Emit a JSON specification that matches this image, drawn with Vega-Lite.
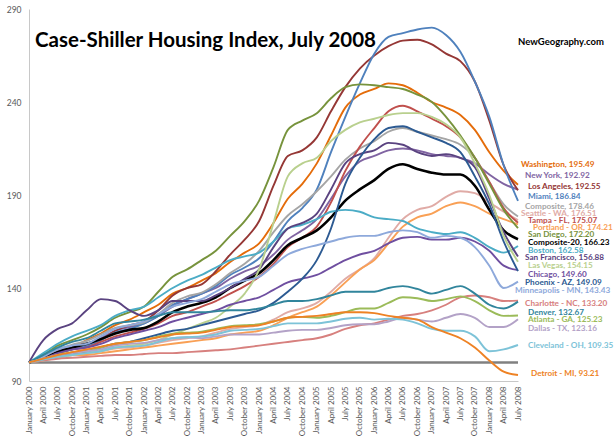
{
"$schema": "https://vega.github.io/schema/vega-lite/v6.json",
"width": 489, "height": 372,
"autosize": {"type": "none"},
"padding": {"left": 29, "top": 9, "right": 97, "bottom": 63},
"background": "white",
"config": {"view": {"stroke": null}, "font": "Lato"},
"title": {"text": "Case-Shiller Housing Index, July 2008", "anchor": "start", "frame": "group", "baseline": "middle", "dx": 6, "dy": 60, "fontSize": 20.5, "fontWeight": "bold", "font": "Lato", "color": "#000000"},
"datasets": {
"labels": [
{"c":"Washington","t":"Washington, 195.49","at":206.1},
{"c":"New York","t":"New York, 192.92","at":200.2},
{"c":"Los Angeles","t":"Los Angeles, 192.55","at":194.3},
{"c":"Miami","t":"Miami, 186.84","at":188.9},
{"c":"Composite","t":"Composite, 178.46","at":183.5},
{"c":"Seattle","t":"Seattle - WA, 176.51","at":179.8},
{"c":"Tampa","t":"Tampa - FL, 175.07","at":176.0},
{"c":"Portland","t":"Portland - OR, 174.21","at":172.3},
{"c":"San Diego","t":"San Diego, 172.20","at":168.5},
{"c":"Composite-20","t":"Composite-20, 166.23","at":164.2},
{"c":"Boston","t":"Boston, 162.58","at":159.9},
{"c":"San Francisco","t":"San Francisco, 156.88","at":156.1},
{"c":"Las Vegas","t":"Las Vegas, 154.15","at":151.8},
{"c":"Chicago","t":"Chicago, 149.60","at":147.0},
{"c":"Phoenix","t":"Phoenix - AZ, 149.09","at":142.7},
{"c":"Minneapolis","t":"Minneapolis - MN, 143.43","at":138.4},
{"c":"Charlotte","t":"Charlotte - NC, 133.20","at":131.4},
{"c":"Denver","t":"Denver, 132.67","at":126.6},
{"c":"Atlanta","t":"Atlanta - GA, 125.23","at":122.8},
{"c":"Dallas","t":"Dallas - TX, 123.16","at":118.0},
{"c":"Cleveland","t":"Cleveland - OH, 109.35","at":108.8},
{"c":"Detroit","t":"Detroit - MI, 93.21","at":93.8}
],
"s": [
{"c":"Washington","m":"2000-01-01","v":100},{"c":"Washington","m":"2000-04-01","v":102.5},{"c":"Washington","m":"2000-07-01","v":106},{"c":"Washington","m":"2000-10-01","v":108},
{"c":"Washington","m":"2001-01-01","v":112},{"c":"Washington","m":"2001-04-01","v":115.5},{"c":"Washington","m":"2001-07-01","v":120},{"c":"Washington","m":"2001-10-01","v":123},
{"c":"Washington","m":"2002-01-01","v":127},{"c":"Washington","m":"2002-04-01","v":131},{"c":"Washington","m":"2002-07-01","v":137},{"c":"Washington","m":"2002-10-01","v":140},
{"c":"Washington","m":"2003-01-01","v":144},{"c":"Washington","m":"2003-04-01","v":148},{"c":"Washington","m":"2003-07-01","v":154},{"c":"Washington","m":"2003-10-01","v":159},
{"c":"Washington","m":"2004-01-01","v":164},{"c":"Washington","m":"2004-04-01","v":175},{"c":"Washington","m":"2004-07-01","v":188},{"c":"Washington","m":"2004-10-01","v":196},
{"c":"Washington","m":"2005-01-01","v":207},{"c":"Washington","m":"2005-04-01","v":222},{"c":"Washington","m":"2005-07-01","v":237},{"c":"Washington","m":"2005-10-01","v":244},
{"c":"Washington","m":"2006-01-01","v":247},{"c":"Washington","m":"2006-04-01","v":250},{"c":"Washington","m":"2006-07-01","v":249},{"c":"Washington","m":"2006-10-01","v":245},
{"c":"Washington","m":"2007-01-01","v":240},{"c":"Washington","m":"2007-04-01","v":237},{"c":"Washington","m":"2007-07-01","v":233},{"c":"Washington","m":"2007-10-01","v":225},
{"c":"Washington","m":"2008-01-01","v":213},{"c":"Washington","m":"2008-04-01","v":203},{"c":"Washington","m":"2008-07-01","v":195.49},

{"c":"New York","m":"2000-01-01","v":100},{"c":"New York","m":"2000-04-01","v":103},{"c":"New York","m":"2000-07-01","v":106},{"c":"New York","m":"2000-10-01","v":109},
{"c":"New York","m":"2001-01-01","v":110},{"c":"New York","m":"2001-04-01","v":113},{"c":"New York","m":"2001-07-01","v":117},{"c":"New York","m":"2001-10-01","v":119},
{"c":"New York","m":"2002-01-01","v":121},{"c":"New York","m":"2002-04-01","v":125},{"c":"New York","m":"2002-07-01","v":130},{"c":"New York","m":"2002-10-01","v":134},
{"c":"New York","m":"2003-01-01","v":137},{"c":"New York","m":"2003-04-01","v":140},{"c":"New York","m":"2003-07-01","v":145},{"c":"New York","m":"2003-10-01","v":149},
{"c":"New York","m":"2004-01-01","v":152},{"c":"New York","m":"2004-04-01","v":158},{"c":"New York","m":"2004-07-01","v":166},{"c":"New York","m":"2004-10-01","v":171},
{"c":"New York","m":"2005-01-01","v":177},{"c":"New York","m":"2005-04-01","v":188},{"c":"New York","m":"2005-07-01","v":200},{"c":"New York","m":"2005-10-01","v":208},
{"c":"New York","m":"2006-01-01","v":211},{"c":"New York","m":"2006-04-01","v":214},{"c":"New York","m":"2006-07-01","v":215},{"c":"New York","m":"2006-10-01","v":214},
{"c":"New York","m":"2007-01-01","v":212},{"c":"New York","m":"2007-04-01","v":211},{"c":"New York","m":"2007-07-01","v":210},{"c":"New York","m":"2007-10-01","v":207},
{"c":"New York","m":"2008-01-01","v":201},{"c":"New York","m":"2008-04-01","v":196},{"c":"New York","m":"2008-07-01","v":192.92},

{"c":"Los Angeles","m":"2000-01-01","v":100},{"c":"Los Angeles","m":"2000-04-01","v":102},{"c":"Los Angeles","m":"2000-07-01","v":105},{"c":"Los Angeles","m":"2000-10-01","v":107},
{"c":"Los Angeles","m":"2001-01-01","v":109},{"c":"Los Angeles","m":"2001-04-01","v":112},{"c":"Los Angeles","m":"2001-07-01","v":117},{"c":"Los Angeles","m":"2001-10-01","v":120},
{"c":"Los Angeles","m":"2002-01-01","v":122},{"c":"Los Angeles","m":"2002-04-01","v":128},{"c":"Los Angeles","m":"2002-07-01","v":136},{"c":"Los Angeles","m":"2002-10-01","v":140},
{"c":"Los Angeles","m":"2003-01-01","v":142},{"c":"Los Angeles","m":"2003-04-01","v":149},{"c":"Los Angeles","m":"2003-07-01","v":158},{"c":"Los Angeles","m":"2003-10-01","v":166},
{"c":"Los Angeles","m":"2004-01-01","v":176},{"c":"Los Angeles","m":"2004-04-01","v":195},{"c":"Los Angeles","m":"2004-07-01","v":211},{"c":"Los Angeles","m":"2004-10-01","v":214},
{"c":"Los Angeles","m":"2005-01-01","v":221},{"c":"Los Angeles","m":"2005-04-01","v":235},{"c":"Los Angeles","m":"2005-07-01","v":248},{"c":"Los Angeles","m":"2005-10-01","v":258},
{"c":"Los Angeles","m":"2006-01-01","v":265},{"c":"Los Angeles","m":"2006-04-01","v":270},{"c":"Los Angeles","m":"2006-07-01","v":273},{"c":"Los Angeles","m":"2006-10-01","v":273.5},
{"c":"Los Angeles","m":"2007-01-01","v":271},{"c":"Los Angeles","m":"2007-04-01","v":266},{"c":"Los Angeles","m":"2007-07-01","v":262},{"c":"Los Angeles","m":"2007-10-01","v":251},
{"c":"Los Angeles","m":"2008-01-01","v":230},{"c":"Los Angeles","m":"2008-04-01","v":206},{"c":"Los Angeles","m":"2008-07-01","v":192.55},

{"c":"Miami","m":"2000-01-01","v":100},{"c":"Miami","m":"2000-04-01","v":102},{"c":"Miami","m":"2000-07-01","v":105},{"c":"Miami","m":"2000-10-01","v":107},
{"c":"Miami","m":"2001-01-01","v":109},{"c":"Miami","m":"2001-04-01","v":112},{"c":"Miami","m":"2001-07-01","v":116},{"c":"Miami","m":"2001-10-01","v":118},
{"c":"Miami","m":"2002-01-01","v":121},{"c":"Miami","m":"2002-04-01","v":125},{"c":"Miami","m":"2002-07-01","v":131},{"c":"Miami","m":"2002-10-01","v":134},
{"c":"Miami","m":"2003-01-01","v":137},{"c":"Miami","m":"2003-04-01","v":141},{"c":"Miami","m":"2003-07-01","v":147},{"c":"Miami","m":"2003-10-01","v":151},
{"c":"Miami","m":"2004-01-01","v":156},{"c":"Miami","m":"2004-04-01","v":165},{"c":"Miami","m":"2004-07-01","v":176},{"c":"Miami","m":"2004-10-01","v":183},
{"c":"Miami","m":"2005-01-01","v":193},{"c":"Miami","m":"2005-04-01","v":213},{"c":"Miami","m":"2005-07-01","v":232},{"c":"Miami","m":"2005-10-01","v":250},
{"c":"Miami","m":"2006-01-01","v":266},{"c":"Miami","m":"2006-04-01","v":275},{"c":"Miami","m":"2006-07-01","v":277},{"c":"Miami","m":"2006-10-01","v":279},
{"c":"Miami","m":"2007-01-01","v":280},{"c":"Miami","m":"2007-04-01","v":276},{"c":"Miami","m":"2007-07-01","v":267},{"c":"Miami","m":"2007-10-01","v":251},
{"c":"Miami","m":"2008-01-01","v":232},{"c":"Miami","m":"2008-04-01","v":206},{"c":"Miami","m":"2008-07-01","v":186.84},

{"c":"Composite","m":"2000-01-01","v":100},{"c":"Composite","m":"2000-04-01","v":103.5},{"c":"Composite","m":"2000-07-01","v":107},{"c":"Composite","m":"2000-10-01","v":109.5},
{"c":"Composite","m":"2001-01-01","v":111.5},{"c":"Composite","m":"2001-04-01","v":115},{"c":"Composite","m":"2001-07-01","v":118.5},{"c":"Composite","m":"2001-10-01","v":120},
{"c":"Composite","m":"2002-01-01","v":121.5},{"c":"Composite","m":"2002-04-01","v":126},{"c":"Composite","m":"2002-07-01","v":132},{"c":"Composite","m":"2002-10-01","v":135.5},
{"c":"Composite","m":"2003-01-01","v":137.5},{"c":"Composite","m":"2003-04-01","v":142},{"c":"Composite","m":"2003-07-01","v":148},{"c":"Composite","m":"2003-10-01","v":153},
{"c":"Composite","m":"2004-01-01","v":160},{"c":"Composite","m":"2004-04-01","v":170},{"c":"Composite","m":"2004-07-01","v":179},{"c":"Composite","m":"2004-10-01","v":185},
{"c":"Composite","m":"2005-01-01","v":192},{"c":"Composite","m":"2005-04-01","v":200},{"c":"Composite","m":"2005-07-01","v":209},{"c":"Composite","m":"2005-10-01","v":215},
{"c":"Composite","m":"2006-01-01","v":219},{"c":"Composite","m":"2006-04-01","v":224},{"c":"Composite","m":"2006-07-01","v":226},{"c":"Composite","m":"2006-10-01","v":224},
{"c":"Composite","m":"2007-01-01","v":222},{"c":"Composite","m":"2007-04-01","v":220},{"c":"Composite","m":"2007-07-01","v":217},{"c":"Composite","m":"2007-10-01","v":210},
{"c":"Composite","m":"2008-01-01","v":197},{"c":"Composite","m":"2008-04-01","v":185},{"c":"Composite","m":"2008-07-01","v":178.46},

{"c":"Seattle","m":"2000-01-01","v":100},{"c":"Seattle","m":"2000-04-01","v":101.5},{"c":"Seattle","m":"2000-07-01","v":103},{"c":"Seattle","m":"2000-10-01","v":104},
{"c":"Seattle","m":"2001-01-01","v":105},{"c":"Seattle","m":"2001-04-01","v":106},{"c":"Seattle","m":"2001-07-01","v":107.5},{"c":"Seattle","m":"2001-10-01","v":108},
{"c":"Seattle","m":"2002-01-01","v":109},{"c":"Seattle","m":"2002-04-01","v":110.5},{"c":"Seattle","m":"2002-07-01","v":112},{"c":"Seattle","m":"2002-10-01","v":113},
{"c":"Seattle","m":"2003-01-01","v":114},{"c":"Seattle","m":"2003-04-01","v":116},{"c":"Seattle","m":"2003-07-01","v":118},{"c":"Seattle","m":"2003-10-01","v":119},
{"c":"Seattle","m":"2004-01-01","v":120},{"c":"Seattle","m":"2004-04-01","v":123},{"c":"Seattle","m":"2004-07-01","v":127},{"c":"Seattle","m":"2004-10-01","v":129},
{"c":"Seattle","m":"2005-01-01","v":132},{"c":"Seattle","m":"2005-04-01","v":138},{"c":"Seattle","m":"2005-07-01","v":145},{"c":"Seattle","m":"2005-10-01","v":150},
{"c":"Seattle","m":"2006-01-01","v":156},{"c":"Seattle","m":"2006-04-01","v":167},{"c":"Seattle","m":"2006-07-01","v":177},{"c":"Seattle","m":"2006-10-01","v":182},
{"c":"Seattle","m":"2007-01-01","v":184},{"c":"Seattle","m":"2007-04-01","v":189},{"c":"Seattle","m":"2007-07-01","v":192},{"c":"Seattle","m":"2007-10-01","v":191},
{"c":"Seattle","m":"2008-01-01","v":186},{"c":"Seattle","m":"2008-04-01","v":181},{"c":"Seattle","m":"2008-07-01","v":176.51},

{"c":"Tampa","m":"2000-01-01","v":100},{"c":"Tampa","m":"2000-04-01","v":102},{"c":"Tampa","m":"2000-07-01","v":105},{"c":"Tampa","m":"2000-10-01","v":107},
{"c":"Tampa","m":"2001-01-01","v":108},{"c":"Tampa","m":"2001-04-01","v":111},{"c":"Tampa","m":"2001-07-01","v":114},{"c":"Tampa","m":"2001-10-01","v":116},
{"c":"Tampa","m":"2002-01-01","v":118},{"c":"Tampa","m":"2002-04-01","v":121},{"c":"Tampa","m":"2002-07-01","v":125},{"c":"Tampa","m":"2002-10-01","v":127},
{"c":"Tampa","m":"2003-01-01","v":130},{"c":"Tampa","m":"2003-04-01","v":133},{"c":"Tampa","m":"2003-07-01","v":137},{"c":"Tampa","m":"2003-10-01","v":141},
{"c":"Tampa","m":"2004-01-01","v":146},{"c":"Tampa","m":"2004-04-01","v":153},{"c":"Tampa","m":"2004-07-01","v":162},{"c":"Tampa","m":"2004-10-01","v":167},
{"c":"Tampa","m":"2005-01-01","v":173},{"c":"Tampa","m":"2005-04-01","v":186},{"c":"Tampa","m":"2005-07-01","v":203},{"c":"Tampa","m":"2005-10-01","v":216},
{"c":"Tampa","m":"2006-01-01","v":226},{"c":"Tampa","m":"2006-04-01","v":235},{"c":"Tampa","m":"2006-07-01","v":238},{"c":"Tampa","m":"2006-10-01","v":235},
{"c":"Tampa","m":"2007-01-01","v":231},{"c":"Tampa","m":"2007-04-01","v":227},{"c":"Tampa","m":"2007-07-01","v":221},{"c":"Tampa","m":"2007-10-01","v":210},
{"c":"Tampa","m":"2008-01-01","v":197},{"c":"Tampa","m":"2008-04-01","v":183},{"c":"Tampa","m":"2008-07-01","v":175.07},

{"c":"Portland","m":"2000-01-01","v":100},{"c":"Portland","m":"2000-04-01","v":101.5},{"c":"Portland","m":"2000-07-01","v":103},{"c":"Portland","m":"2000-10-01","v":104},
{"c":"Portland","m":"2001-01-01","v":104},{"c":"Portland","m":"2001-04-01","v":105},{"c":"Portland","m":"2001-07-01","v":106},{"c":"Portland","m":"2001-10-01","v":107},
{"c":"Portland","m":"2002-01-01","v":108},{"c":"Portland","m":"2002-04-01","v":109},{"c":"Portland","m":"2002-07-01","v":110},{"c":"Portland","m":"2002-10-01","v":111},
{"c":"Portland","m":"2003-01-01","v":112},{"c":"Portland","m":"2003-04-01","v":113},{"c":"Portland","m":"2003-07-01","v":115},{"c":"Portland","m":"2003-10-01","v":116},
{"c":"Portland","m":"2004-01-01","v":117},{"c":"Portland","m":"2004-04-01","v":120},{"c":"Portland","m":"2004-07-01","v":124},{"c":"Portland","m":"2004-10-01","v":127},
{"c":"Portland","m":"2005-01-01","v":130},{"c":"Portland","m":"2005-04-01","v":136},{"c":"Portland","m":"2005-07-01","v":143},{"c":"Portland","m":"2005-10-01","v":150},
{"c":"Portland","m":"2006-01-01","v":155},{"c":"Portland","m":"2006-04-01","v":164},{"c":"Portland","m":"2006-07-01","v":173},{"c":"Portland","m":"2006-10-01","v":178},
{"c":"Portland","m":"2007-01-01","v":180},{"c":"Portland","m":"2007-04-01","v":184},{"c":"Portland","m":"2007-07-01","v":186},{"c":"Portland","m":"2007-10-01","v":184},
{"c":"Portland","m":"2008-01-01","v":180},{"c":"Portland","m":"2008-04-01","v":177},{"c":"Portland","m":"2008-07-01","v":174.21},

{"c":"San Diego","m":"2000-01-01","v":100},{"c":"San Diego","m":"2000-04-01","v":104},{"c":"San Diego","m":"2000-07-01","v":109},{"c":"San Diego","m":"2000-10-01","v":112},
{"c":"San Diego","m":"2001-01-01","v":115},{"c":"San Diego","m":"2001-04-01","v":119},{"c":"San Diego","m":"2001-07-01","v":124},{"c":"San Diego","m":"2001-10-01","v":127},
{"c":"San Diego","m":"2002-01-01","v":130},{"c":"San Diego","m":"2002-04-01","v":138},{"c":"San Diego","m":"2002-07-01","v":146},{"c":"San Diego","m":"2002-10-01","v":150},
{"c":"San Diego","m":"2003-01-01","v":155},{"c":"San Diego","m":"2003-04-01","v":160},{"c":"San Diego","m":"2003-07-01","v":168},{"c":"San Diego","m":"2003-10-01","v":176},
{"c":"San Diego","m":"2004-01-01","v":187},{"c":"San Diego","m":"2004-04-01","v":205},{"c":"San Diego","m":"2004-07-01","v":225},{"c":"San Diego","m":"2004-10-01","v":230},
{"c":"San Diego","m":"2005-01-01","v":234},{"c":"San Diego","m":"2005-04-01","v":242},{"c":"San Diego","m":"2005-07-01","v":248},{"c":"San Diego","m":"2005-10-01","v":249.5},
{"c":"San Diego","m":"2006-01-01","v":249},{"c":"San Diego","m":"2006-04-01","v":248},{"c":"San Diego","m":"2006-07-01","v":247},{"c":"San Diego","m":"2006-10-01","v":244},
{"c":"San Diego","m":"2007-01-01","v":240},{"c":"San Diego","m":"2007-04-01","v":232},{"c":"San Diego","m":"2007-07-01","v":222},{"c":"San Diego","m":"2007-10-01","v":210},
{"c":"San Diego","m":"2008-01-01","v":196},{"c":"San Diego","m":"2008-04-01","v":182},{"c":"San Diego","m":"2008-07-01","v":172.2},

{"c":"Composite-20","m":"2000-01-01","v":100},{"c":"Composite-20","m":"2000-04-01","v":102.5},{"c":"Composite-20","m":"2000-07-01","v":105.5},{"c":"Composite-20","m":"2000-10-01","v":108},
{"c":"Composite-20","m":"2001-01-01","v":110},{"c":"Composite-20","m":"2001-04-01","v":112.5},{"c":"Composite-20","m":"2001-07-01","v":115.5},{"c":"Composite-20","m":"2001-10-01","v":117.5},
{"c":"Composite-20","m":"2002-01-01","v":118.5},{"c":"Composite-20","m":"2002-04-01","v":122},{"c":"Composite-20","m":"2002-07-01","v":127},{"c":"Composite-20","m":"2002-10-01","v":130},
{"c":"Composite-20","m":"2003-01-01","v":132},{"c":"Composite-20","m":"2003-04-01","v":135},{"c":"Composite-20","m":"2003-07-01","v":140},{"c":"Composite-20","m":"2003-10-01","v":144},
{"c":"Composite-20","m":"2004-01-01","v":148},{"c":"Composite-20","m":"2004-04-01","v":155},{"c":"Composite-20","m":"2004-07-01","v":163},{"c":"Composite-20","m":"2004-10-01","v":167},
{"c":"Composite-20","m":"2005-01-01","v":171},{"c":"Composite-20","m":"2005-04-01","v":178},{"c":"Composite-20","m":"2005-07-01","v":187},{"c":"Composite-20","m":"2005-10-01","v":193},
{"c":"Composite-20","m":"2006-01-01","v":198},{"c":"Composite-20","m":"2006-04-01","v":204},{"c":"Composite-20","m":"2006-07-01","v":206.5},{"c":"Composite-20","m":"2006-10-01","v":204},
{"c":"Composite-20","m":"2007-01-01","v":202},{"c":"Composite-20","m":"2007-04-01","v":201},{"c":"Composite-20","m":"2007-07-01","v":201},{"c":"Composite-20","m":"2007-10-01","v":195},
{"c":"Composite-20","m":"2008-01-01","v":182},{"c":"Composite-20","m":"2008-04-01","v":171},{"c":"Composite-20","m":"2008-07-01","v":166.23},

{"c":"Boston","m":"2000-01-01","v":100},{"c":"Boston","m":"2000-04-01","v":105},{"c":"Boston","m":"2000-07-01","v":110},{"c":"Boston","m":"2000-10-01","v":114},
{"c":"Boston","m":"2001-01-01","v":117},{"c":"Boston","m":"2001-04-01","v":120},{"c":"Boston","m":"2001-07-01","v":125},{"c":"Boston","m":"2001-10-01","v":128},
{"c":"Boston","m":"2002-01-01","v":130},{"c":"Boston","m":"2002-04-01","v":135},{"c":"Boston","m":"2002-07-01","v":140},{"c":"Boston","m":"2002-10-01","v":144},
{"c":"Boston","m":"2003-01-01","v":147},{"c":"Boston","m":"2003-04-01","v":151},{"c":"Boston","m":"2003-07-01","v":155},{"c":"Boston","m":"2003-10-01","v":157},
{"c":"Boston","m":"2004-01-01","v":159},{"c":"Boston","m":"2004-04-01","v":165},{"c":"Boston","m":"2004-07-01","v":172},{"c":"Boston","m":"2004-10-01","v":174},
{"c":"Boston","m":"2005-01-01","v":177},{"c":"Boston","m":"2005-04-01","v":181},{"c":"Boston","m":"2005-07-01","v":182},{"c":"Boston","m":"2005-10-01","v":181},
{"c":"Boston","m":"2006-01-01","v":178},{"c":"Boston","m":"2006-04-01","v":177},{"c":"Boston","m":"2006-07-01","v":176},{"c":"Boston","m":"2006-10-01","v":172},
{"c":"Boston","m":"2007-01-01","v":170},{"c":"Boston","m":"2007-04-01","v":169},{"c":"Boston","m":"2007-07-01","v":170},{"c":"Boston","m":"2007-10-01","v":167},
{"c":"Boston","m":"2008-01-01","v":162},{"c":"Boston","m":"2008-04-01","v":159},{"c":"Boston","m":"2008-07-01","v":162.58},

{"c":"San Francisco","m":"2000-01-01","v":100},{"c":"San Francisco","m":"2000-04-01","v":112},{"c":"San Francisco","m":"2000-07-01","v":118},{"c":"San Francisco","m":"2000-10-01","v":121},
{"c":"San Francisco","m":"2001-01-01","v":128},{"c":"San Francisco","m":"2001-04-01","v":134},{"c":"San Francisco","m":"2001-07-01","v":133},{"c":"San Francisco","m":"2001-10-01","v":128},
{"c":"San Francisco","m":"2002-01-01","v":125},{"c":"San Francisco","m":"2002-04-01","v":128},{"c":"San Francisco","m":"2002-07-01","v":133},{"c":"San Francisco","m":"2002-10-01","v":133},
{"c":"San Francisco","m":"2003-01-01","v":133},{"c":"San Francisco","m":"2003-04-01","v":136},{"c":"San Francisco","m":"2003-07-01","v":140},{"c":"San Francisco","m":"2003-10-01","v":145},
{"c":"San Francisco","m":"2004-01-01","v":150},{"c":"San Francisco","m":"2004-04-01","v":162},{"c":"San Francisco","m":"2004-07-01","v":172},{"c":"San Francisco","m":"2004-10-01","v":175},
{"c":"San Francisco","m":"2005-01-01","v":180},{"c":"San Francisco","m":"2005-04-01","v":193},{"c":"San Francisco","m":"2005-07-01","v":207},{"c":"San Francisco","m":"2005-10-01","v":212},
{"c":"San Francisco","m":"2006-01-01","v":214},{"c":"San Francisco","m":"2006-04-01","v":218},{"c":"San Francisco","m":"2006-07-01","v":217},{"c":"San Francisco","m":"2006-10-01","v":213},
{"c":"San Francisco","m":"2007-01-01","v":211},{"c":"San Francisco","m":"2007-04-01","v":212},{"c":"San Francisco","m":"2007-07-01","v":210},{"c":"San Francisco","m":"2007-10-01","v":205},
{"c":"San Francisco","m":"2008-01-01","v":188},{"c":"San Francisco","m":"2008-04-01","v":170},{"c":"San Francisco","m":"2008-07-01","v":156.88},

{"c":"Las Vegas","m":"2000-01-01","v":100},{"c":"Las Vegas","m":"2000-04-01","v":101},{"c":"Las Vegas","m":"2000-07-01","v":102.5},{"c":"Las Vegas","m":"2000-10-01","v":104},
{"c":"Las Vegas","m":"2001-01-01","v":105},{"c":"Las Vegas","m":"2001-04-01","v":106},{"c":"Las Vegas","m":"2001-07-01","v":108},{"c":"Las Vegas","m":"2001-10-01","v":109},
{"c":"Las Vegas","m":"2002-01-01","v":110},{"c":"Las Vegas","m":"2002-04-01","v":112},{"c":"Las Vegas","m":"2002-07-01","v":115},{"c":"Las Vegas","m":"2002-10-01","v":118},
{"c":"Las Vegas","m":"2003-01-01","v":121},{"c":"Las Vegas","m":"2003-04-01","v":124},{"c":"Las Vegas","m":"2003-07-01","v":130},{"c":"Las Vegas","m":"2003-10-01","v":137},
{"c":"Las Vegas","m":"2004-01-01","v":150},{"c":"Las Vegas","m":"2004-04-01","v":175},{"c":"Las Vegas","m":"2004-07-01","v":200},{"c":"Las Vegas","m":"2004-10-01","v":207},
{"c":"Las Vegas","m":"2005-01-01","v":210},{"c":"Las Vegas","m":"2005-04-01","v":219},{"c":"Las Vegas","m":"2005-07-01","v":225},{"c":"Las Vegas","m":"2005-10-01","v":229},
{"c":"Las Vegas","m":"2006-01-01","v":231},{"c":"Las Vegas","m":"2006-04-01","v":233},{"c":"Las Vegas","m":"2006-07-01","v":234},{"c":"Las Vegas","m":"2006-10-01","v":234},
{"c":"Las Vegas","m":"2007-01-01","v":232},{"c":"Las Vegas","m":"2007-04-01","v":228},{"c":"Las Vegas","m":"2007-07-01","v":221},{"c":"Las Vegas","m":"2007-10-01","v":207},
{"c":"Las Vegas","m":"2008-01-01","v":190},{"c":"Las Vegas","m":"2008-04-01","v":168},{"c":"Las Vegas","m":"2008-07-01","v":154.15},

{"c":"Chicago","m":"2000-01-01","v":100},{"c":"Chicago","m":"2000-04-01","v":102},{"c":"Chicago","m":"2000-07-01","v":105},{"c":"Chicago","m":"2000-10-01","v":107},
{"c":"Chicago","m":"2001-01-01","v":108},{"c":"Chicago","m":"2001-04-01","v":110},{"c":"Chicago","m":"2001-07-01","v":113},{"c":"Chicago","m":"2001-10-01","v":115},
{"c":"Chicago","m":"2002-01-01","v":117},{"c":"Chicago","m":"2002-04-01","v":119},{"c":"Chicago","m":"2002-07-01","v":122},{"c":"Chicago","m":"2002-10-01","v":124},
{"c":"Chicago","m":"2003-01-01","v":126},{"c":"Chicago","m":"2003-04-01","v":128},{"c":"Chicago","m":"2003-07-01","v":131},{"c":"Chicago","m":"2003-10-01","v":133},
{"c":"Chicago","m":"2004-01-01","v":135},{"c":"Chicago","m":"2004-04-01","v":139},{"c":"Chicago","m":"2004-07-01","v":143},{"c":"Chicago","m":"2004-10-01","v":145},
{"c":"Chicago","m":"2005-01-01","v":147},{"c":"Chicago","m":"2005-04-01","v":151},{"c":"Chicago","m":"2005-07-01","v":155},{"c":"Chicago","m":"2005-10-01","v":158},
{"c":"Chicago","m":"2006-01-01","v":160},{"c":"Chicago","m":"2006-04-01","v":164},{"c":"Chicago","m":"2006-07-01","v":167},{"c":"Chicago","m":"2006-10-01","v":167.5},
{"c":"Chicago","m":"2007-01-01","v":166},{"c":"Chicago","m":"2007-04-01","v":166},{"c":"Chicago","m":"2007-07-01","v":167},{"c":"Chicago","m":"2007-10-01","v":165},
{"c":"Chicago","m":"2008-01-01","v":160},{"c":"Chicago","m":"2008-04-01","v":152},{"c":"Chicago","m":"2008-07-01","v":149.6},

{"c":"Phoenix","m":"2000-01-01","v":100},{"c":"Phoenix","m":"2000-04-01","v":102},{"c":"Phoenix","m":"2000-07-01","v":104},{"c":"Phoenix","m":"2000-10-01","v":105},
{"c":"Phoenix","m":"2001-01-01","v":106},{"c":"Phoenix","m":"2001-04-01","v":108},{"c":"Phoenix","m":"2001-07-01","v":110},{"c":"Phoenix","m":"2001-10-01","v":111},
{"c":"Phoenix","m":"2002-01-01","v":113},{"c":"Phoenix","m":"2002-04-01","v":115},{"c":"Phoenix","m":"2002-07-01","v":117},{"c":"Phoenix","m":"2002-10-01","v":118},
{"c":"Phoenix","m":"2003-01-01","v":120},{"c":"Phoenix","m":"2003-04-01","v":122},{"c":"Phoenix","m":"2003-07-01","v":124},{"c":"Phoenix","m":"2003-10-01","v":126},
{"c":"Phoenix","m":"2004-01-01","v":128},{"c":"Phoenix","m":"2004-04-01","v":132},{"c":"Phoenix","m":"2004-07-01","v":138},{"c":"Phoenix","m":"2004-10-01","v":145},
{"c":"Phoenix","m":"2005-01-01","v":155},{"c":"Phoenix","m":"2005-04-01","v":172},{"c":"Phoenix","m":"2005-07-01","v":196},{"c":"Phoenix","m":"2005-10-01","v":210},
{"c":"Phoenix","m":"2006-01-01","v":220},{"c":"Phoenix","m":"2006-04-01","v":226},{"c":"Phoenix","m":"2006-07-01","v":227},{"c":"Phoenix","m":"2006-10-01","v":224},
{"c":"Phoenix","m":"2007-01-01","v":221},{"c":"Phoenix","m":"2007-04-01","v":218},{"c":"Phoenix","m":"2007-07-01","v":213},{"c":"Phoenix","m":"2007-10-01","v":200},
{"c":"Phoenix","m":"2008-01-01","v":185},{"c":"Phoenix","m":"2008-04-01","v":165},{"c":"Phoenix","m":"2008-07-01","v":149.09},

{"c":"Minneapolis","m":"2000-01-01","v":100},{"c":"Minneapolis","m":"2000-04-01","v":103},{"c":"Minneapolis","m":"2000-07-01","v":107},{"c":"Minneapolis","m":"2000-10-01","v":109},
{"c":"Minneapolis","m":"2001-01-01","v":110},{"c":"Minneapolis","m":"2001-04-01","v":114},{"c":"Minneapolis","m":"2001-07-01","v":118},{"c":"Minneapolis","m":"2001-10-01","v":120},
{"c":"Minneapolis","m":"2002-01-01","v":122},{"c":"Minneapolis","m":"2002-04-01","v":126},{"c":"Minneapolis","m":"2002-07-01","v":130},{"c":"Minneapolis","m":"2002-10-01","v":132},
{"c":"Minneapolis","m":"2003-01-01","v":134},{"c":"Minneapolis","m":"2003-04-01","v":138},{"c":"Minneapolis","m":"2003-07-01","v":142},{"c":"Minneapolis","m":"2003-10-01","v":144},
{"c":"Minneapolis","m":"2004-01-01","v":146},{"c":"Minneapolis","m":"2004-04-01","v":152},{"c":"Minneapolis","m":"2004-07-01","v":158},{"c":"Minneapolis","m":"2004-10-01","v":161},
{"c":"Minneapolis","m":"2005-01-01","v":163},{"c":"Minneapolis","m":"2005-04-01","v":165},{"c":"Minneapolis","m":"2005-07-01","v":167},{"c":"Minneapolis","m":"2005-10-01","v":168},
{"c":"Minneapolis","m":"2006-01-01","v":168},{"c":"Minneapolis","m":"2006-04-01","v":170},{"c":"Minneapolis","m":"2006-07-01","v":171},{"c":"Minneapolis","m":"2006-10-01","v":170},
{"c":"Minneapolis","m":"2007-01-01","v":167},{"c":"Minneapolis","m":"2007-04-01","v":168},{"c":"Minneapolis","m":"2007-07-01","v":167},{"c":"Minneapolis","m":"2007-10-01","v":162},
{"c":"Minneapolis","m":"2008-01-01","v":152},{"c":"Minneapolis","m":"2008-04-01","v":140},{"c":"Minneapolis","m":"2008-07-01","v":143.43},

{"c":"Charlotte","m":"2000-01-01","v":100},{"c":"Charlotte","m":"2000-04-01","v":101},{"c":"Charlotte","m":"2000-07-01","v":102},{"c":"Charlotte","m":"2000-10-01","v":102.5},
{"c":"Charlotte","m":"2001-01-01","v":103},{"c":"Charlotte","m":"2001-04-01","v":103.5},{"c":"Charlotte","m":"2001-07-01","v":104},{"c":"Charlotte","m":"2001-10-01","v":104},
{"c":"Charlotte","m":"2002-01-01","v":104.5},{"c":"Charlotte","m":"2002-04-01","v":105},{"c":"Charlotte","m":"2002-07-01","v":105},{"c":"Charlotte","m":"2002-10-01","v":105.5},
{"c":"Charlotte","m":"2003-01-01","v":106},{"c":"Charlotte","m":"2003-04-01","v":106.5},{"c":"Charlotte","m":"2003-07-01","v":107},{"c":"Charlotte","m":"2003-10-01","v":108},
{"c":"Charlotte","m":"2004-01-01","v":109},{"c":"Charlotte","m":"2004-04-01","v":110},{"c":"Charlotte","m":"2004-07-01","v":111},{"c":"Charlotte","m":"2004-10-01","v":112},
{"c":"Charlotte","m":"2005-01-01","v":113},{"c":"Charlotte","m":"2005-04-01","v":115},{"c":"Charlotte","m":"2005-07-01","v":118},{"c":"Charlotte","m":"2005-10-01","v":120},
{"c":"Charlotte","m":"2006-01-01","v":121},{"c":"Charlotte","m":"2006-04-01","v":123},{"c":"Charlotte","m":"2006-07-01","v":125},{"c":"Charlotte","m":"2006-10-01","v":126},
{"c":"Charlotte","m":"2007-01-01","v":128},{"c":"Charlotte","m":"2007-04-01","v":131},{"c":"Charlotte","m":"2007-07-01","v":135},{"c":"Charlotte","m":"2007-10-01","v":136},
{"c":"Charlotte","m":"2008-01-01","v":135},{"c":"Charlotte","m":"2008-04-01","v":133},{"c":"Charlotte","m":"2008-07-01","v":133.2},

{"c":"Denver","m":"2000-01-01","v":100},{"c":"Denver","m":"2000-04-01","v":104},{"c":"Denver","m":"2000-07-01","v":108},{"c":"Denver","m":"2000-10-01","v":111},
{"c":"Denver","m":"2001-01-01","v":113},{"c":"Denver","m":"2001-04-01","v":117},{"c":"Denver","m":"2001-07-01","v":121},{"c":"Denver","m":"2001-10-01","v":122},
{"c":"Denver","m":"2002-01-01","v":123},{"c":"Denver","m":"2002-04-01","v":125},{"c":"Denver","m":"2002-07-01","v":127},{"c":"Denver","m":"2002-10-01","v":127},
{"c":"Denver","m":"2003-01-01","v":127},{"c":"Denver","m":"2003-04-01","v":127.5},{"c":"Denver","m":"2003-07-01","v":128},{"c":"Denver","m":"2003-10-01","v":128},
{"c":"Denver","m":"2004-01-01","v":129},{"c":"Denver","m":"2004-04-01","v":131},{"c":"Denver","m":"2004-07-01","v":133},{"c":"Denver","m":"2004-10-01","v":133},
{"c":"Denver","m":"2005-01-01","v":134},{"c":"Denver","m":"2005-04-01","v":136},{"c":"Denver","m":"2005-07-01","v":138},{"c":"Denver","m":"2005-10-01","v":138},
{"c":"Denver","m":"2006-01-01","v":138},{"c":"Denver","m":"2006-04-01","v":140},{"c":"Denver","m":"2006-07-01","v":141},{"c":"Denver","m":"2006-10-01","v":139.5},
{"c":"Denver","m":"2007-01-01","v":137},{"c":"Denver","m":"2007-04-01","v":139},{"c":"Denver","m":"2007-07-01","v":141},{"c":"Denver","m":"2007-10-01","v":137},
{"c":"Denver","m":"2008-01-01","v":131},{"c":"Denver","m":"2008-04-01","v":129},{"c":"Denver","m":"2008-07-01","v":132.67},

{"c":"Atlanta","m":"2000-01-01","v":100},{"c":"Atlanta","m":"2000-04-01","v":102},{"c":"Atlanta","m":"2000-07-01","v":104},{"c":"Atlanta","m":"2000-10-01","v":105.5},
{"c":"Atlanta","m":"2001-01-01","v":106},{"c":"Atlanta","m":"2001-04-01","v":108},{"c":"Atlanta","m":"2001-07-01","v":110},{"c":"Atlanta","m":"2001-10-01","v":111},
{"c":"Atlanta","m":"2002-01-01","v":112},{"c":"Atlanta","m":"2002-04-01","v":114},{"c":"Atlanta","m":"2002-07-01","v":115.5},{"c":"Atlanta","m":"2002-10-01","v":116},
{"c":"Atlanta","m":"2003-01-01","v":116.5},{"c":"Atlanta","m":"2003-04-01","v":118},{"c":"Atlanta","m":"2003-07-01","v":119.5},{"c":"Atlanta","m":"2003-10-01","v":120},
{"c":"Atlanta","m":"2004-01-01","v":120.5},{"c":"Atlanta","m":"2004-04-01","v":122},{"c":"Atlanta","m":"2004-07-01","v":124},{"c":"Atlanta","m":"2004-10-01","v":124.5},
{"c":"Atlanta","m":"2005-01-01","v":124},{"c":"Atlanta","m":"2005-04-01","v":125},{"c":"Atlanta","m":"2005-07-01","v":127},{"c":"Atlanta","m":"2005-10-01","v":129},
{"c":"Atlanta","m":"2006-01-01","v":129},{"c":"Atlanta","m":"2006-04-01","v":132},{"c":"Atlanta","m":"2006-07-01","v":135},{"c":"Atlanta","m":"2006-10-01","v":134.5},
{"c":"Atlanta","m":"2007-01-01","v":133},{"c":"Atlanta","m":"2007-04-01","v":134},{"c":"Atlanta","m":"2007-07-01","v":135.5},{"c":"Atlanta","m":"2007-10-01","v":133},
{"c":"Atlanta","m":"2008-01-01","v":128},{"c":"Atlanta","m":"2008-04-01","v":125},{"c":"Atlanta","m":"2008-07-01","v":125.23},

{"c":"Dallas","m":"2000-01-01","v":100},{"c":"Dallas","m":"2000-04-01","v":102},{"c":"Dallas","m":"2000-07-01","v":104},{"c":"Dallas","m":"2000-10-01","v":105},
{"c":"Dallas","m":"2001-01-01","v":106},{"c":"Dallas","m":"2001-04-01","v":107},{"c":"Dallas","m":"2001-07-01","v":109},{"c":"Dallas","m":"2001-10-01","v":110},
{"c":"Dallas","m":"2002-01-01","v":110.5},{"c":"Dallas","m":"2002-04-01","v":112},{"c":"Dallas","m":"2002-07-01","v":113},{"c":"Dallas","m":"2002-10-01","v":113.5},
{"c":"Dallas","m":"2003-01-01","v":113},{"c":"Dallas","m":"2003-04-01","v":114},{"c":"Dallas","m":"2003-07-01","v":115},{"c":"Dallas","m":"2003-10-01","v":115},
{"c":"Dallas","m":"2004-01-01","v":115},{"c":"Dallas","m":"2004-04-01","v":116},{"c":"Dallas","m":"2004-07-01","v":117},{"c":"Dallas","m":"2004-10-01","v":117.5},
{"c":"Dallas","m":"2005-01-01","v":117.5},{"c":"Dallas","m":"2005-04-01","v":118.5},{"c":"Dallas","m":"2005-07-01","v":120},{"c":"Dallas","m":"2005-10-01","v":120.5},
{"c":"Dallas","m":"2006-01-01","v":120.5},{"c":"Dallas","m":"2006-04-01","v":122},{"c":"Dallas","m":"2006-07-01","v":124},{"c":"Dallas","m":"2006-10-01","v":123},
{"c":"Dallas","m":"2007-01-01","v":122},{"c":"Dallas","m":"2007-04-01","v":124},{"c":"Dallas","m":"2007-07-01","v":126},{"c":"Dallas","m":"2007-10-01","v":124},
{"c":"Dallas","m":"2008-01-01","v":119},{"c":"Dallas","m":"2008-04-01","v":119},{"c":"Dallas","m":"2008-07-01","v":123.16},

{"c":"Cleveland","m":"2000-01-01","v":100},{"c":"Cleveland","m":"2000-04-01","v":101.5},{"c":"Cleveland","m":"2000-07-01","v":103},{"c":"Cleveland","m":"2000-10-01","v":104},
{"c":"Cleveland","m":"2001-01-01","v":105},{"c":"Cleveland","m":"2001-04-01","v":106},{"c":"Cleveland","m":"2001-07-01","v":108},{"c":"Cleveland","m":"2001-10-01","v":108.5},
{"c":"Cleveland","m":"2002-01-01","v":109},{"c":"Cleveland","m":"2002-04-01","v":111},{"c":"Cleveland","m":"2002-07-01","v":113},{"c":"Cleveland","m":"2002-10-01","v":113.5},
{"c":"Cleveland","m":"2003-01-01","v":114},{"c":"Cleveland","m":"2003-04-01","v":115},{"c":"Cleveland","m":"2003-07-01","v":117},{"c":"Cleveland","m":"2003-10-01","v":117.5},
{"c":"Cleveland","m":"2004-01-01","v":118},{"c":"Cleveland","m":"2004-04-01","v":119.5},{"c":"Cleveland","m":"2004-07-01","v":121},{"c":"Cleveland","m":"2004-10-01","v":121},
{"c":"Cleveland","m":"2005-01-01","v":121},{"c":"Cleveland","m":"2005-04-01","v":122},{"c":"Cleveland","m":"2005-07-01","v":123.5},{"c":"Cleveland","m":"2005-10-01","v":124},
{"c":"Cleveland","m":"2006-01-01","v":123},{"c":"Cleveland","m":"2006-04-01","v":123.5},{"c":"Cleveland","m":"2006-07-01","v":123},{"c":"Cleveland","m":"2006-10-01","v":121},
{"c":"Cleveland","m":"2007-01-01","v":118},{"c":"Cleveland","m":"2007-04-01","v":117},{"c":"Cleveland","m":"2007-07-01","v":117},{"c":"Cleveland","m":"2007-10-01","v":114},
{"c":"Cleveland","m":"2008-01-01","v":106},{"c":"Cleveland","m":"2008-04-01","v":107},{"c":"Cleveland","m":"2008-07-01","v":109.35},

{"c":"Detroit","m":"2000-01-01","v":100},{"c":"Detroit","m":"2000-04-01","v":102},{"c":"Detroit","m":"2000-07-01","v":104},{"c":"Detroit","m":"2000-10-01","v":105.5},
{"c":"Detroit","m":"2001-01-01","v":107},{"c":"Detroit","m":"2001-04-01","v":108.5},{"c":"Detroit","m":"2001-07-01","v":110},{"c":"Detroit","m":"2001-10-01","v":111},
{"c":"Detroit","m":"2002-01-01","v":112},{"c":"Detroit","m":"2002-04-01","v":113.5},{"c":"Detroit","m":"2002-07-01","v":115},{"c":"Detroit","m":"2002-10-01","v":115.5},
{"c":"Detroit","m":"2003-01-01","v":116},{"c":"Detroit","m":"2003-04-01","v":117.5},{"c":"Detroit","m":"2003-07-01","v":119},{"c":"Detroit","m":"2003-10-01","v":119.5},
{"c":"Detroit","m":"2004-01-01","v":120},{"c":"Detroit","m":"2004-04-01","v":122},{"c":"Detroit","m":"2004-07-01","v":124},{"c":"Detroit","m":"2004-10-01","v":124.5},
{"c":"Detroit","m":"2005-01-01","v":125},{"c":"Detroit","m":"2005-04-01","v":126},{"c":"Detroit","m":"2005-07-01","v":127},{"c":"Detroit","m":"2005-10-01","v":127},
{"c":"Detroit","m":"2006-01-01","v":126.5},{"c":"Detroit","m":"2006-04-01","v":125},{"c":"Detroit","m":"2006-07-01","v":124},{"c":"Detroit","m":"2006-10-01","v":123},
{"c":"Detroit","m":"2007-01-01","v":119},{"c":"Detroit","m":"2007-04-01","v":116},{"c":"Detroit","m":"2007-07-01","v":113},{"c":"Detroit","m":"2007-10-01","v":108},
{"c":"Detroit","m":"2008-01-01","v":101},{"c":"Detroit","m":"2008-04-01","v":95},{"c":"Detroit","m":"2008-07-01","v":93.21}
]
},
"layer": [
{"data": {"values": [{}]}, "mark": {"type": "rule", "color": "#808080", "strokeWidth": 2.5}, "encoding": {"y": {"datum": 100, "type": "quantitative"}}},
{"data": {"name": "s"},
 "mark": {"type": "line", "interpolate": "monotone"},
 "encoding": {
  "x": {"field": "m", "type": "temporal",
   "scale": {"type": "utc", "domain": [{"year": 2000, "month": 1, "date": 1, "utc": true}, {"year": 2008, "month": 7, "date": 1, "utc": true}]},
   "axis": {"title": null, "format": "%B %Y", "tickCount": {"interval": "month", "step": 3}, "labelAngle": 270, "labelFontSize": 8, "labelColor": "#595959", "labelFont": "Lato", "ticks": false, "grid": false, "domainColor": "#C8C8C8", "labelPadding": 5, "labelOverlap": false, "labelBound": false, "labelFlush": false}},
  "y": {"field": "v", "type": "quantitative",
   "scale": {"domain": [90, 290], "nice": false, "zero": false},
   "axis": {"title": null, "values": [90, 140, 190, 240, 290], "ticks": false, "gridColor": "#D9D9D9", "domainColor": "#C8C8C8", "labelColor": "#595959", "labelFontSize": 8.5, "labelFont": "Lato", "labelPadding": 8}},
  "color": {"field": "c", "type": "nominal", "legend": null,
   "scale": {"domain": ["Washington","New York","Los Angeles","Miami","Composite","Seattle","Tampa","Portland","San Diego","Composite-20","Boston","San Francisco","Las Vegas","Chicago","Phoenix","Minneapolis","Charlotte","Denver","Atlanta","Dallas","Cleveland","Detroit"],
    "range": ["#E46C0A","#8064A2","#953735","#4F81BD","#A5A5A5","#E0ABA6","#C0504D","#F9A055","#77933C","#000000","#4BACC6","#5A4380","#B9D08E","#6F4FA0","#2C5A92","#8EA9DB","#D7807E","#31859C","#9BBB59","#B3A2C7","#7DC3D8","#EE8224"]}},
  "strokeWidth": {"condition": {"test": "datum.c === 'Composite-20'", "value": 2.6}, "value": 1.9}
 }},
{"data": {"name": "labels"},
 "transform": [{"filter": {"field": "c", "oneOf": ["Washington", "Seattle"]}}],
 "mark": {"type": "text", "align": "left", "baseline": "middle", "dx": 3, "fontSize": 8.2, "fontWeight": "bold", "font": "Lato"},
 "encoding": {"x": {"datum": {"year": 2008, "month": 7, "date": 1, "utc": true}, "type": "temporal"}, "y": {"field": "at", "type": "quantitative"}, "text": {"field": "t"}, "color": {"field": "c", "type": "nominal", "legend": null}}},
{"data": {"name": "labels"},
 "transform": [{"filter": {"field": "c", "oneOf": ["New York", "Composite", "San Francisco", "Phoenix", "Charlotte"]}}],
 "mark": {"type": "text", "align": "left", "baseline": "middle", "dx": 7, "fontSize": 8.2, "fontWeight": "bold", "font": "Lato"},
 "encoding": {"x": {"datum": {"year": 2008, "month": 7, "date": 1, "utc": true}, "type": "temporal"}, "y": {"field": "at", "type": "quantitative"}, "text": {"field": "t"}, "color": {"field": "c", "type": "nominal", "legend": null}}},
{"data": {"name": "labels"},
 "transform": [{"filter": {"field": "c", "oneOf": ["Los Angeles", "Miami", "Tampa", "San Diego", "Composite-20", "Boston", "Las Vegas", "Chicago", "Denver", "Atlanta", "Dallas", "Cleveland"]}}],
 "mark": {"type": "text", "align": "left", "baseline": "middle", "dx": 10, "fontSize": 8.2, "fontWeight": "bold", "font": "Lato"},
 "encoding": {"x": {"datum": {"year": 2008, "month": 7, "date": 1, "utc": true}, "type": "temporal"}, "y": {"field": "at", "type": "quantitative"}, "text": {"field": "t"}, "color": {"field": "c", "type": "nominal", "legend": null}}},
{"data": {"name": "labels"},
 "transform": [{"filter": {"field": "c", "equal": "Detroit"}}],
 "mark": {"type": "text", "align": "left", "baseline": "middle", "dx": 13, "fontSize": 8.2, "fontWeight": "bold", "font": "Lato"},
 "encoding": {"x": {"datum": {"year": 2008, "month": 7, "date": 1, "utc": true}, "type": "temporal"}, "y": {"field": "at", "type": "quantitative"}, "text": {"field": "t"}, "color": {"field": "c", "type": "nominal", "legend": null}}},
{"data": {"name": "labels"},
 "transform": [{"filter": {"field": "c", "equal": "Portland"}}],
 "mark": {"type": "text", "align": "left", "baseline": "middle", "dx": 15, "fontSize": 8.2, "fontWeight": "bold", "font": "Lato"},
 "encoding": {"x": {"datum": {"year": 2008, "month": 7, "date": 1, "utc": true}, "type": "temporal"}, "y": {"field": "at", "type": "quantitative"}, "text": {"field": "t"}, "color": {"field": "c", "type": "nominal", "legend": null}}},
{"data": {"name": "labels"},
 "transform": [{"filter": {"field": "c", "equal": "Minneapolis"}}],
 "mark": {"type": "text", "align": "left", "baseline": "middle", "dx": -3, "fontSize": 8.2, "fontWeight": "bold", "font": "Lato"},
 "encoding": {"x": {"datum": {"year": 2008, "month": 7, "date": 1, "utc": true}, "type": "temporal"}, "y": {"field": "at", "type": "quantitative"}, "text": {"field": "t"}, "color": {"field": "c", "type": "nominal", "legend": null}}},
{"data": {"values": [{}]},
 "mark": {"type": "text", "align": "left", "baseline": "middle", "fontSize": 9.5, "fontWeight": "bold", "font": "Lato", "color": "#000000"},
 "encoding": {
  "x": {"datum": {"year": 2008, "month": 7, "date": 1, "utc": true}, "type": "temporal"},
  "y": {"datum": 272, "type": "quantitative"},
  "text": {"value": "NewGeography.com"}
 }}
]
}
